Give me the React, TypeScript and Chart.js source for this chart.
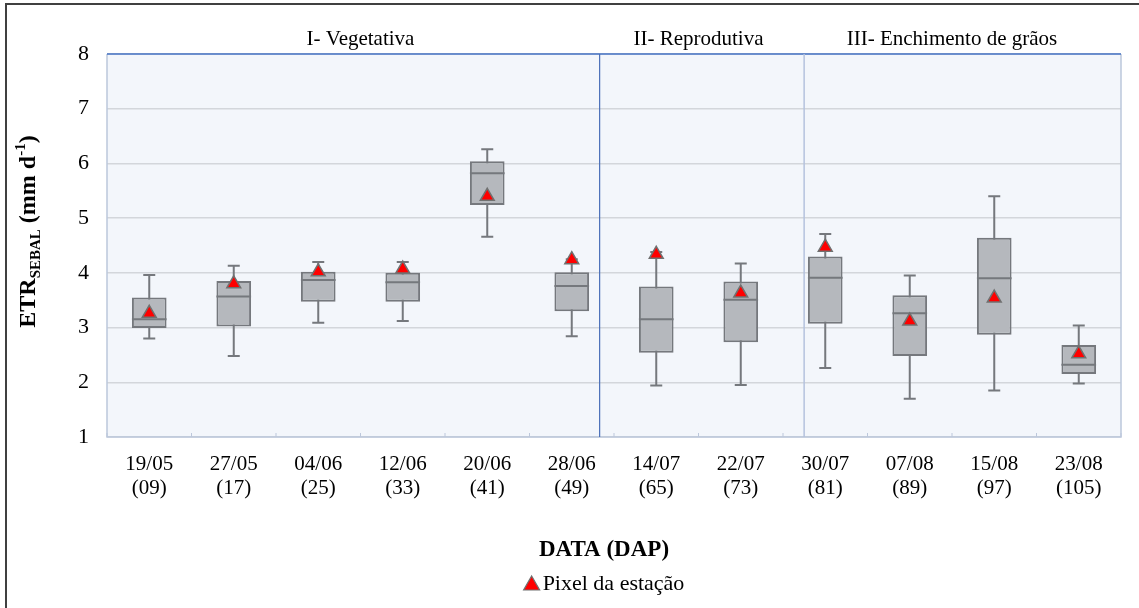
import React, { useEffect, useRef } from "react";
import { Chart, registerables } from "chart.js";

Chart.register(...registerables);

const categories = ["19/05", "27/05", "04/06", "12/06", "20/06", "28/06", "14/07", "22/07", "30/07", "07/08", "15/08", "23/08"];
const dapLabels = ["(09)", "(17)", "(25)", "(33)", "(41)", "(49)", "(65)", "(73)", "(81)", "(89)", "(97)", "(105)"];
const whiskerMin = [2.80, 2.48, 3.09, 3.12, 4.66, 2.84, 1.94, 1.95, 2.26, 1.70, 1.85, 1.98];
const quartile1 = [2.99, 3.02, 3.47, 3.47, 5.24, 3.30, 2.54, 2.73, 3.07, 2.48, 2.87, 2.15];
const medians = [3.15, 3.57, 3.87, 3.83, 5.82, 3.76, 3.15, 3.51, 3.91, 3.26, 3.90, 2.32];
const quartile3 = [3.55, 3.85, 4.02, 4.00, 6.04, 4.01, 3.75, 3.84, 4.30, 3.59, 4.64, 2.68];
const whiskerMax = [3.96, 4.13, 4.20, 4.20, 6.26, 4.25, 4.38, 4.17, 4.71, 3.95, 5.40, 3.04];
const stationPixel = [3.26, 3.80, 4.02, 4.07, 5.40, 4.24, 4.34, 3.63, 4.47, 3.12, 3.54, 2.52];

const phaseLabels = ["I- Vegetativa", "II- Reprodutiva", "III- Enchimento de grãos"];
const phaseStart = [0, 6, 8];
const phaseEnd = [5, 7, 11];
const phaseDividers = [5.33, 7.75];

const yTicks = [1, 2, 3, 4, 5, 6, 7, 8];
const legendLabel = "Pixel da estação";
const xTitle = "DATA (DAP)";

const SERIF = '"Liberation Serif", "Times New Roman", serif';
const BOX_FILL = "#B5B8BD";
const BOX_LINE = "#75787D";

const boxPlugin = {
  id: "boxExtras",
  beforeDraw(chart: any) {
    const { ctx, chartArea: a, width, height } = chart;
    ctx.save();
    ctx.fillStyle = "#ffffff";
    ctx.fillRect(0, 0, width, height);
    ctx.strokeStyle = "#404040";
    ctx.lineWidth = 2;
    ctx.strokeRect(6, 4, width + 20, height + 20);
    ctx.fillStyle = "#F3F6FB";
    ctx.fillRect(a.left, a.top, a.right - a.left, a.bottom - a.top);
    ctx.restore();
  },
  beforeDatasetsDraw(chart: any) {
    const { ctx, chartArea: a, scales } = chart;
    const xs = scales.x;
    const ys = scales.y;
    ctx.save();
    ctx.lineWidth = 1.5;
    ctx.strokeStyle = "#BCC7DB";
    ctx.beginPath();
    ctx.moveTo(a.left, a.top);
    ctx.lineTo(a.left, a.bottom);
    ctx.lineTo(a.right, a.bottom);
    ctx.lineTo(a.right, a.top);
    ctx.stroke();
    const step = xs.getPixelForValue(1) - xs.getPixelForValue(0);
    ctx.lineWidth = 1;
    for (let i = 0; i <= categories.length; i++) {
      const x = xs.getPixelForValue(i) - step / 2;
      ctx.beginPath();
      ctx.moveTo(x, a.bottom);
      ctx.lineTo(x, a.bottom - 4);
      ctx.stroke();
    }
    ctx.strokeStyle = "#4472C4";
    ctx.lineWidth = 1.5;
    ctx.beginPath();
    ctx.moveTo(a.left, a.top);
    ctx.lineTo(a.right, a.top);
    ctx.stroke();
    phaseDividers.forEach((d, k) => {
      const x = xs.getPixelForValue(d);
      ctx.strokeStyle = k === 0 ? "#4A6FB8" : "#B4C2DD";
      ctx.lineWidth = k === 0 ? 1.2 : 1.5;
      ctx.beginPath();
      ctx.moveTo(x, a.top);
      ctx.lineTo(x, a.bottom);
      ctx.stroke();
    });
    ctx.strokeStyle = BOX_LINE;
    ctx.lineWidth = 2;
    const cap = 6;
    categories.forEach((_, i) => {
      const x = xs.getPixelForValue(i);
      const yMin = ys.getPixelForValue(whiskerMin[i]);
      const yMax = ys.getPixelForValue(whiskerMax[i]);
      ctx.beginPath();
      ctx.moveTo(x, yMin);
      ctx.lineTo(x, yMax);
      ctx.moveTo(x - cap, yMin);
      ctx.lineTo(x + cap, yMin);
      ctx.moveTo(x - cap, yMax);
      ctx.lineTo(x + cap, yMax);
      ctx.stroke();
    });
    ctx.restore();
  },
  afterDatasetDraw(chart: any, args: any) {
    if (args.index !== 0) return;
    const { ctx, scales } = chart;
    const meta = chart.getDatasetMeta(0);
    ctx.save();
    ctx.strokeStyle = BOX_LINE;
    ctx.lineWidth = 2;
    meta.data.forEach((bar: any, i: number) => {
      const half = bar.width / 2;
      const y = scales.y.getPixelForValue(medians[i]);
      ctx.beginPath();
      ctx.moveTo(bar.x - half, y);
      ctx.lineTo(bar.x + half, y);
      ctx.stroke();
    });
    ctx.restore();
  },
  afterDraw(chart: any) {
    const { ctx, chartArea: a, scales } = chart;
    const xs = scales.x;
    ctx.save();
    ctx.fillStyle = "#000";
    ctx.font = `21px ${SERIF}`;
    ctx.textAlign = "center";
    ctx.textBaseline = "alphabetic";
    phaseLabels.forEach((p, k) => {
      const x = (xs.getPixelForValue(phaseStart[k]) + xs.getPixelForValue(phaseEnd[k])) / 2;
      ctx.fillText(p, x, a.top - 9);
    });
    ctx.save();
    const midY = (a.top + a.bottom) / 2 - 14;
    ctx.translate(35, midY);
    ctx.rotate(-Math.PI / 2);
    const big = `bold 24px ${SERIF}`;
    const small = `bold 15px ${SERIF}`;
    const parts = [
      { t: "ETR", f: big, dy: 0 },
      { t: "SEBAL", f: small, dy: 5 },
      { t: " (mm d", f: big, dy: 0 },
      { t: "-1", f: small, dy: -10 },
      { t: ")", f: big, dy: 0 },
    ];
    let total = 0;
    parts.forEach((p) => {
      ctx.font = p.f;
      total += ctx.measureText(p.t).width;
    });
    let cx = -total / 2;
    ctx.textAlign = "left";
    ctx.textBaseline = "alphabetic";
    parts.forEach((p) => {
      ctx.font = p.f;
      ctx.fillText(p.t, cx, p.dy);
      cx += ctx.measureText(p.t).width;
    });
    ctx.restore();
    const cxTitle = (a.left + a.right) / 2 - 10;
    ctx.font = `bold 23px ${SERIF}`;
    ctx.textAlign = "center";
    ctx.textBaseline = "middle";
    ctx.fillText(xTitle, cxTitle, a.bottom + 113);
    ctx.font = `22px ${SERIF}`;
    const tw = ctx.measureText(legendLabel).width;
    const markW = 16;
    const gap = 3;
    const groupW = markW + gap + tw;
    const lx = cxTitle - groupW / 2;
    const ly = a.bottom + 147;
    ctx.beginPath();
    ctx.moveTo(lx + markW / 2, ly - 8);
    ctx.lineTo(lx + markW, ly + 6);
    ctx.lineTo(lx, ly + 6);
    ctx.closePath();
    ctx.fillStyle = "#FF0000";
    ctx.fill();
    ctx.strokeStyle = "#707070";
    ctx.lineWidth = 1.2;
    ctx.stroke();
    ctx.fillStyle = "#000";
    ctx.textAlign = "left";
    ctx.fillText(legendLabel, lx + markW + gap, ly);
    ctx.restore();
  },
};

export default function App() {
  const ref = useRef<HTMLCanvasElement | null>(null);
  useEffect(() => {
    if (!ref.current) return;
    const chart = new Chart(ref.current, {
      type: "bar",
      data: {
        labels: categories.map((c, i) => [c, dapLabels[i]]),
        datasets: [
          {
            type: "bar",
            label: "Box",
            data: categories.map((_, i) => [quartile1[i], quartile3[i]]) as any,
            backgroundColor: BOX_FILL,
            borderColor: BOX_LINE,
            borderWidth: 2,
            borderSkipped: false,
            barPercentage: 0.41,
            categoryPercentage: 1,
            order: 2,
          } as any,
          {
            type: "line",
            label: legendLabel,
            data: stationPixel,
            showLine: false,
            pointStyle: "triangle",
            pointRadius: 8,
            pointBackgroundColor: "#FF0000",
            pointBorderColor: "#707070",
            pointBorderWidth: 1.5,
            order: 1,
          } as any,
        ],
      },
      options: {
        responsive: false,
        animation: false,
        layout: { padding: { left: 0, right: 18, top: 54, bottom: 0 } },
        plugins: { legend: { display: false }, tooltip: { enabled: false } },
        scales: {
          x: {
            type: "category",
            offset: true,
            grid: { display: false, drawTicks: false },
            border: { display: false },
            ticks: {
              color: "#000",
              font: { family: SERIF, size: 21, lineHeight: 1.15 },
              padding: 15,
              maxRotation: 0,
              autoSkip: false,
            },
            afterFit(scale: any) {
              scale.height = 171;
            },
          },
          y: {
            min: 1,
            max: 8,
            afterBuildTicks(scale: any) {
              scale.ticks = yTicks.map((v) => ({ value: v }));
            },
            grid: { color: "#D3D6DB", lineWidth: 1.5, drawTicks: false },
            border: { display: false },
            ticks: {
              color: "#000",
              font: { family: SERIF, size: 22 },
              padding: 18,
            },
            afterFit(scale: any) {
              scale.width = 107;
            },
          },
        },
      },
      plugins: [boxPlugin],
    });
    return () => chart.destroy();
  }, []);
  return (
    <div style={{ position: "absolute", left: 0, top: 0, width: 1139, height: 608 }}>
      <canvas ref={ref} width={1139} height={608} style={{ width: 1139, height: 608 }} />
    </div>
  );
}
